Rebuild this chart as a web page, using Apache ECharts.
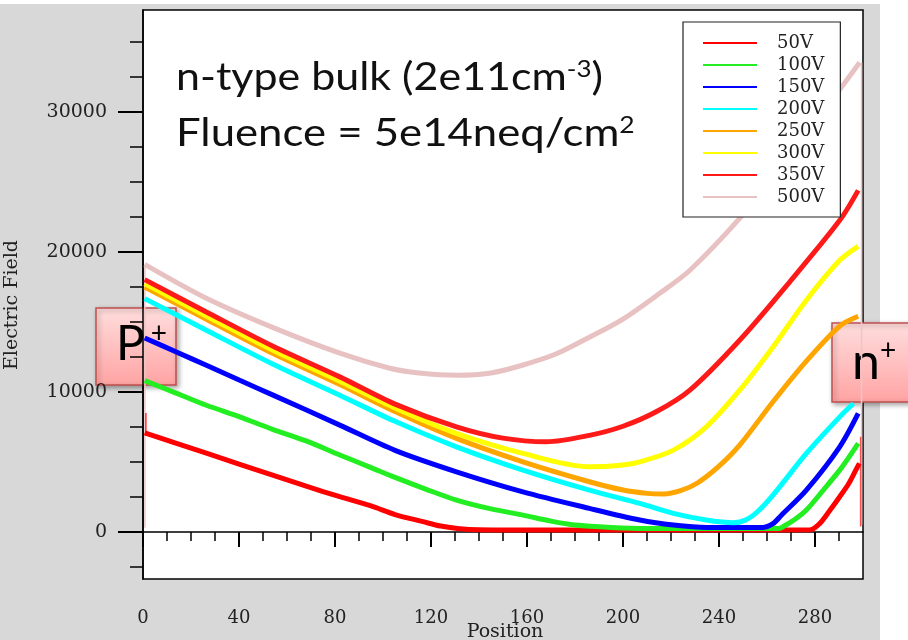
<!DOCTYPE html>
<html><head><meta charset="utf-8">
<script src="https://cdn.jsdelivr.net/npm/echarts@6/dist/echarts.min.js"></script>
<style>
html,body{margin:0;padding:0;background:#fff;}
#bg{position:absolute;left:0;top:4px;width:880px;height:636px;background:#d8d8d8;}
#c{position:absolute;left:0;top:0;width:908px;height:640px;}
</style></head>
<body><div id="bg"></div><div id="c"></div>
<script>
// ---- tick labels ----
const xTicks = [0, 40, 80, 120, 160, 200, 240, 280];
const xMinorTicks = [10,20,30,50,60,70,90,100,110,130,140,150,170,180,190,210,220,230,250,260,270,290];
const yTicks = [0, 10000, 20000, 30000];
const yMinorTicks = [-2500, 2500, 5000, 7500, 12500, 15000, 17500, 22500, 25000, 27500, 32500, 35000];

// ---- series names & colours ----
const seriesNames = ['50V','100V','150V','200V','250V','300V','350V','500V'];
const seriesColors = ['#ff0000','#22ee22','#0000ff','#00ffff','#ffa500','#ffff00','#ff1a1a','#e8c2c2'];

// ---- data: [position, electric field] ----
const v50 = [[0.7,7080],[13,6380],[26.4,5630],[40,4850],[54,4060],[68,3270],[82,2520],[95,1860],[105,1250],[116.7,740],[124,430],[131,260],[140,160],[160,140],[200,140],[250,140],[278,160],[282,620],[286,1500],[290.3,2520],[294,3450],[297,4420],[298.5,4900]];
const v100 = [[0.7,10800],[13,9970],[26.4,9050],[40.3,8220],[54,7330],[68,6500],[82,5500],[95,4600],[105,3900],[118,3050],[130.6,2280],[145,1650],[158.3,1210],[170,780],[180,500],[195,330],[210,260],[265,260],[268,520],[272,950],[276.4,1570],[283,2900],[290.3,4420],[294,5300],[298,6320]];
const v150 = [[0.7,13850],[13.9,12850],[26.4,11900],[40.3,10830],[54.2,9770],[82,7630],[105,5830],[130.6,4300],[158.3,2870],[186,1690],[207,860],[221,500],[235,330],[258,330],[262.5,600],[266,1200],[276.4,2990],[290.3,6080],[298,8460]];
const v200 = [[0.7,16655],[26.4,14400],[54.2,11975],[82,9765],[105,7900],[130.6,6080],[158.3,4420],[186,2990],[207,2040],[221,1330],[234.7,860],[246,670],[251,850],[256,1450],[262.5,2640],[276.4,5610],[290.3,8220],[296,9170]];
const v250 = [[0.7,17490],[26.4,15183],[54.2,12735],[82,10526],[105,8600],[130.6,6680],[158.3,5010],[186,3590],[200,3000],[210,2760],[217,2720],[224,2950],[231,3500],[240,4700],[248.6,6200],[262.5,9300],[276.4,12200],[290.3,14700],[298,15400]];
const v300 = [[0.7,17725],[26.4,15420],[54.2,12973],[82,10763],[105,8850],[130.6,7040],[158.3,5610],[186,4660],[198,4750],[207,5010],[221,5845],[234.7,7506],[248.6,10120],[262.5,13210],[276.4,16540],[290.3,19390],[298,20390]];
const v350 = [[0.7,18010],[26.4,15705],[54.2,13258],[82,11072],[105,9130],[130.6,7508],[150,6700],[168,6440],[186,6900],[200,7550],[214,8600],[228,10150],[248.6,13690],[269.4,17840],[290.3,22240],[298,24380]];
const v500 = [[0.7,19100],[26.4,16680],[54,14600],[82,12760],[102.8,11690],[115,11350],[130.6,11190],[145,11350],[158,11900],[172,12700],[186,13900],[200,15200],[215,17000],[228,18700],[248.6,22380],[270,26800],[290,31500],[298.6,33500]];
const seriesData = [v50, v100, v150, v200, v250, v300, v350, v500];

// thin vertical traces at the contacts
const edge500Left = [[0.8,19000],[0.8,300]];
const edge500Right = [[299.4,33500],[299.4,500]];
const edge50Left = [[1.2,8500],[1.2,7000]];
const edge50Right = [[299,6800],[299,400]];

const chart = echarts.init(document.getElementById('c'), null, {renderer:'canvas'});
const serif = 'DejaVu Serif';
const axBase = { type:'value', splitLine:{show:false} };
const plain = v => String(v);

const mainSeries = seriesNames.map((n,i)=>({
  name:n, type:'line', data:seriesData[i], symbol:'none',
  smooth:0.3, clip:true,
  lineStyle:{color:seriesColors[i], width:5},
  itemStyle:{color:seriesColors[i]}
}));
const edgeSeries = [
  {d:edge500Left, c:'#ecc6c6'}, {d:edge500Right, c:'#ecc6c6'},
  {d:edge50Left, c:'#ff3030'}, {d:edge50Right, c:'#ff5050'}
].map(e=>({type:'line', data:e.d, symbol:'none', silent:true, lineStyle:{color:e.c, width:1.5}, z:1}));

const option = {
  backgroundColor:'transparent',
  animation:false,
  grid:{left:143, top:10, right:45, bottom:61, show:true, backgroundColor:'#fff', borderColor:'#000', borderWidth:1.5},
  legend:{
    orient:'vertical', left:683, top:22,
    padding:[12,16,11,20], itemGap:4, itemWidth:54, itemHeight:2, icon:'rect',
    backgroundColor:'#fff', borderColor:'#222', borderWidth:1.2, borderRadius:0,
    textStyle:{fontFamily:serif, fontSize:18, lineHeight:18, color:'#222', padding:[0,0,0,15]},
    data: seriesNames
  },
  xAxis:[
    Object.assign({}, axBase, {min:0, max:300,
      axisLine:{show:true, lineStyle:{color:'#000', width:1.5}},
      axisTick:{show:true, customValues:xTicks, length:15, lineStyle:{color:'#000', width:2}},
      axisLabel:{customValues:xTicks, formatter:plain, margin:30, fontFamily:serif, fontSize:18, color:'#222'}
    }),
    Object.assign({}, axBase, {min:0, max:300, position:'bottom',
      axisLine:{show:false},
      axisTick:{show:true, customValues:xMinorTicks, length:9, lineStyle:{color:'#000', width:1.5}},
      axisLabel:{show:false}
    })
  ],
  yAxis:[
    Object.assign({}, axBase, {min:-3350, max:37250,
      axisLine:{show:true, lineStyle:{color:'#000', width:1.5}},
      axisTick:{show:true, customValues:yTicks, length:25, lineStyle:{color:'#000', width:2}},
      axisLabel:{customValues:yTicks, formatter:plain, margin:36, fontFamily:serif, fontSize:19, color:'#222'}
    }),
    Object.assign({}, axBase, {min:-3350, max:37250, position:'left',
      axisLine:{show:false},
      axisTick:{show:true, customValues:yMinorTicks, length:13, lineStyle:{color:'#000', width:1.5}},
      axisLabel:{show:false}
    })
  ],
  series: edgeSeries.concat(mainSeries),
  graphic:[
    {type:'text', x:505, y:632, style:{text:'Position', font:'19px "DejaVu Serif"', fill:'#222', align:'center', verticalAlign:'middle'}},
    {type:'text', x:12, y:305, rotation:Math.PI/2, style:{text:'Electric Field', font:'19px "DejaVu Serif"', fill:'#222', align:'center', verticalAlign:'middle'}},
    {type:'text', x:176, y:58, scaleX:1.13, style:{
      text:'{m|n-type bulk (2e11cm}{s|-3}{m|)}', verticalAlign:'top',
      rich:{m:{fontFamily:'Lato', fontSize:38, lineHeight:40, fill:'#111'}, s:{fontFamily:'Lato', fontSize:23, lineHeight:23, verticalAlign:'top', fill:'#111'}}
    }},
    {type:'text', x:176, y:114, scaleX:1.15, style:{
      text:'{m|Fluence = 5e14neq/cm}{s|2}', verticalAlign:'top',
      rich:{m:{fontFamily:'Lato', fontSize:38, lineHeight:40, fill:'#111'}, s:{fontFamily:'Lato', fontSize:23, lineHeight:23, verticalAlign:'top', fill:'#111'}}
    }},
    {type:'group', x:96, y:308, children:[
      {type:'rect', shape:{x:0,y:0,width:80,height:77}, style:{
        fill:new echarts.graphic.LinearGradient(0,0,0,1,[{offset:0,color:'#ffdede'},{offset:1,color:'#ffa3a3'}]),
        stroke:'#bf504d', lineWidth:1.5, shadowBlur:5, shadowOffsetX:2, shadowOffsetY:2, shadowColor:'rgba(0,0,0,0.35)'}},
      {type:'text', x:20, y:12, style:{text:'{m|P}{s|+}', verticalAlign:'top',
        rich:{m:{fontFamily:'Lato', fontSize:48, lineHeight:50, fill:'#000', padding:[0,6,0,0]}, s:{fontFamily:'Lato', fontSize:28, lineHeight:28, verticalAlign:'top', fill:'#000'}}}}
    ]},
    {type:'group', x:832, y:323, children:[
      {type:'rect', shape:{x:0,y:0,width:80,height:79}, style:{
        fill:new echarts.graphic.LinearGradient(0,0,0,1,[{offset:0,color:'#ffdede'},{offset:1,color:'#ffa3a3'}]),
        stroke:'#bf504d', lineWidth:1.5, shadowBlur:5, shadowOffsetX:2, shadowOffsetY:2, shadowColor:'rgba(0,0,0,0.35)'}},
      {type:'text', x:20, y:14, style:{text:'{m|n}{s|+}', verticalAlign:'top',
        rich:{m:{fontFamily:'Lato', fontSize:50, lineHeight:52, fill:'#000'}, s:{fontFamily:'Lato', fontSize:28, lineHeight:28, verticalAlign:'top', fill:'#000'}}}}
    ]}
  ]
};
chart.setOption(option);
</script>
</body></html>
